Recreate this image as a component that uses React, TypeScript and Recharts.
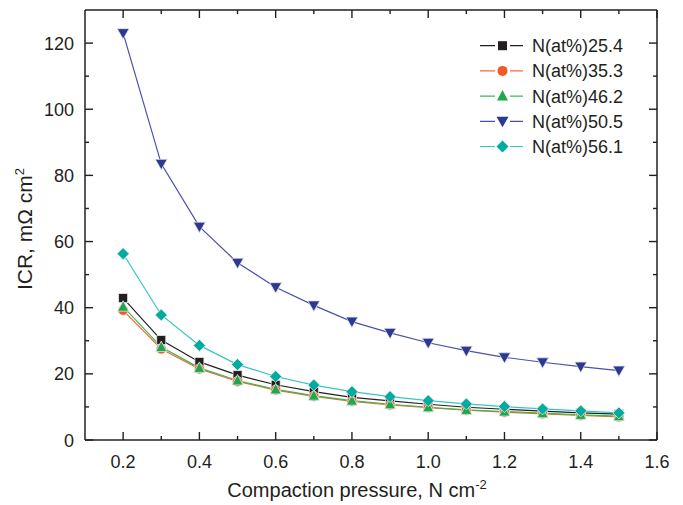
import { LineChart, Line, XAxis, YAxis, Label } from 'recharts'

const pressure = [0.2, 0.3, 0.4, 0.5, 0.6, 0.7, 0.8, 0.9, 1.0, 1.1, 1.2, 1.3, 1.4, 1.5]
const n254 = [42.9, 30.2, 23.6, 19.6, 16.7, 14.6, 12.9, 11.8, 10.8, 9.9, 9.3, 8.7, 8.2, 7.8]
const n353 = [39.2, 27.5, 21.5, 17.7, 15.1, 13.2, 11.7, 10.6, 9.8, 9.0, 8.4, 7.9, 7.4, 7.0]
const n462 = [40.3, 28.1, 21.8, 18.0, 15.3, 13.4, 11.9, 10.8, 9.9, 9.1, 8.6, 8.1, 7.6, 7.2]
const n505 = [123.0, 83.5, 64.5, 53.6, 46.2, 40.7, 35.8, 32.4, 29.4, 27.0, 25.0, 23.5, 22.2, 21.0]
const n561 = [56.3, 37.8, 28.6, 22.8, 19.2, 16.6, 14.6, 13.1, 11.9, 10.9, 10.1, 9.4, 8.8, 8.2]

const xTicks = [0.2, 0.3, 0.4, 0.5, 0.6, 0.7, 0.8, 0.9, 1.0, 1.1, 1.2, 1.3, 1.4, 1.5, 1.6]
const yTicks = [0, 10, 20, 30, 40, 50, 60, 70, 80, 90, 100, 110, 120]

const data = pressure.map((p, i) => ({
  p,
  a: n254[i],
  b: n353[i],
  c: n462[i],
  d: n505[i],
  e: n561[i],
}))

const series = [
  { key: 'a', name: 'N(at%)25.4', line: '#231f20', fill: '#231f20', shape: 'square' },
  { key: 'b', name: 'N(at%)35.3', line: '#f26b3a', fill: '#f15a24', shape: 'circle' },
  { key: 'c', name: 'N(at%)46.2', line: '#3cb94e', fill: '#1fa84a', shape: 'up' },
  { key: 'd', name: 'N(at%)50.5', line: '#4a52a8', fill: '#2b3990', shape: 'down' },
  { key: 'e', name: 'N(at%)56.1', line: '#35c6c2', fill: '#00ab9f', shape: 'diamond' },
]

const FONT = '"Liberation Sans", Arial, sans-serif'
const AXIS = '#231f20'

function Marker({ shape, cx, cy, fill, edge = 'none' }: { shape: string; cx: number; cy: number; fill: string; edge?: string }) {
  const st = { stroke: edge, strokeWidth: 0.8 }
  if (shape === 'square') return <rect x={cx - 4.5} y={cy - 4.5} width={9} height={9} fill={fill} {...st} />
  if (shape === 'circle') return <circle cx={cx} cy={cy} r={5} fill={fill} {...st} />
  if (shape === 'up')
    return <polygon points={`${cx},${cy - 6} ${cx + 5.5},${cy + 4.5} ${cx - 5.5},${cy + 4.5}`} fill={fill} {...st} />
  if (shape === 'down')
    return <polygon points={`${cx - 6},${cy - 4.5} ${cx + 6},${cy - 4.5} ${cx},${cy + 6}`} fill={fill} {...st} />
  return <polygon points={`${cx},${cy - 6} ${cx + 6},${cy} ${cx},${cy + 6} ${cx - 6},${cy}`} fill={fill} {...st} />
}

function isMajorX(v: number) {
  return Math.round(v * 10) % 2 === 0
}

function BottomTick(props: any) {
  const { x, y, payload } = props
  const major = isMajorX(payload.value)
  const len = major ? 8 : 4
  return (
    <g>
      <path d={`M${x},${y}L${x},${y - len}`} stroke={AXIS} strokeWidth={1.4} fill="none" />
      {major && (
        <text x={x} y={y + 28} textAnchor="middle" fontSize={18} fill={AXIS} fontFamily={FONT}>
          {payload.value.toFixed(1)}
        </text>
      )}
    </g>
  )
}

function TopTick(props: any) {
  const { x, y, payload } = props
  const len = isMajorX(payload.value) ? 8 : 4
  return <path d={`M${x},${y}L${x},${y + len}`} stroke={AXIS} strokeWidth={1.4} fill="none" />
}

function LeftTick(props: any) {
  const { x, y, payload } = props
  const major = payload.value % 20 === 0
  const len = major ? 8 : 4
  return (
    <g>
      <path d={`M${x},${y}L${x + len},${y}`} stroke={AXIS} strokeWidth={1.4} fill="none" />
      {major && (
        <text x={x - 11} y={y + 6.5} textAnchor="end" fontSize={18} fill={AXIS} fontFamily={FONT}>
          {payload.value}
        </text>
      )}
    </g>
  )
}

function RightTick(props: any) {
  const { x, y, payload } = props
  const len = payload.value % 20 === 0 ? 8 : 4
  return <path d={`M${x},${y}L${x - len},${y}`} stroke={AXIS} strokeWidth={1.4} fill="none" />
}

function ChartLegend() {
  return (
    <svg
      width={180}
      height={130}
      style={{ position: 'absolute', left: 478, top: 33, display: 'block' }}
    >
      {series.map((s, i) => {
        const cy = 12.7 + i * 25.2
        return (
          <g key={s.key}>
            <line x1={2} x2={45} y1={cy} y2={cy} stroke={s.line} strokeWidth={1.2} />
            <rect x={17} y={cy - 8} width={15} height={16} fill="#fff" />
            <Marker shape={s.shape} cx={24.5} cy={cy} fill={s.fill} />
            <text x={54} y={cy + 6.5} fontSize={18} fill={AXIS} fontFamily={FONT}>
              {s.name}
            </text>
          </g>
        )
      })}
    </svg>
  )
}

export default function App() {
  return (
    <div style={{ position: 'absolute', left: 0, top: 0, width: 683, height: 505, background: '#fff' }}>
      <LineChart width={683} height={505} data={data} margin={{ top: 9, right: 25, bottom: 0, left: 0 }}>
        <XAxis
          xAxisId="bottom"
          dataKey="p"
          type="number"
          domain={[0.1, 1.6]}
          ticks={xTicks}
          interval={0}
          height={65}
          tickSize={0}
          tickMargin={0}
          tickLine={false}
          tick={<BottomTick />}
          axisLine={{ stroke: AXIS, strokeWidth: 1.5 }}
          allowDataOverflow
        >
          <Label
            content={() => (
              <text x={357} y={497} textAnchor="middle" fontSize={20} fill={AXIS} fontFamily={FONT}>
                Compaction pressure, N cm
                <tspan dy={-8} fontSize={13}>-2</tspan>
              </text>
            )}
          />
        </XAxis>
        <XAxis
          xAxisId="top"
          orientation="top"
          dataKey="p"
          type="number"
          domain={[0.1, 1.6]}
          ticks={xTicks}
          interval={0}
          height={1}
          tickSize={0}
          tickMargin={0}
          tickLine={false}
          tick={<TopTick />}
          axisLine={{ stroke: AXIS, strokeWidth: 1.5 }}
          allowDataOverflow
        />
        <YAxis
          yAxisId="left"
          type="number"
          domain={[0, 130]}
          ticks={yTicks}
          interval={0}
          width={85}
          tickSize={0}
          tickMargin={0}
          tickLine={false}
          tick={<LeftTick />}
          axisLine={{ stroke: AXIS, strokeWidth: 1.5 }}
          allowDataOverflow
        >
          <Label
            content={() => (
              <text
                x={32}
                y={229}
                transform="rotate(-90, 32, 229)"
                textAnchor="middle"
                fontSize={21}
                fill={AXIS}
                fontFamily={FONT}
              >
                ICR, mΩ cm
                <tspan dy={-8} fontSize={13}>2</tspan>
              </text>
            )}
          />
        </YAxis>
        <YAxis
          yAxisId="right"
          orientation="right"
          type="number"
          domain={[0, 130]}
          ticks={yTicks}
          interval={0}
          width={1}
          tickSize={0}
          tickMargin={0}
          tickLine={false}
          tick={<RightTick />}
          axisLine={{ stroke: AXIS, strokeWidth: 1.5 }}
          allowDataOverflow
        />
        {series.map((s) => (
          <Line
            key={s.key}
            xAxisId="bottom"
            yAxisId="left"
            dataKey={s.key}
            name={s.name}
            stroke={s.line}
            strokeWidth={1.2}
            isAnimationActive={false}
            activeDot={false}
            dot={(props: any) => (
              <Marker
                key={`${s.key}-${props.index}`}
                shape={s.shape}
                cx={props.cx}
                cy={props.cy}
                fill={s.fill}
                edge="#e4e4e4"
              />
            )}
          />
        ))}
      </LineChart>
      <ChartLegend />
    </div>
  )
}
